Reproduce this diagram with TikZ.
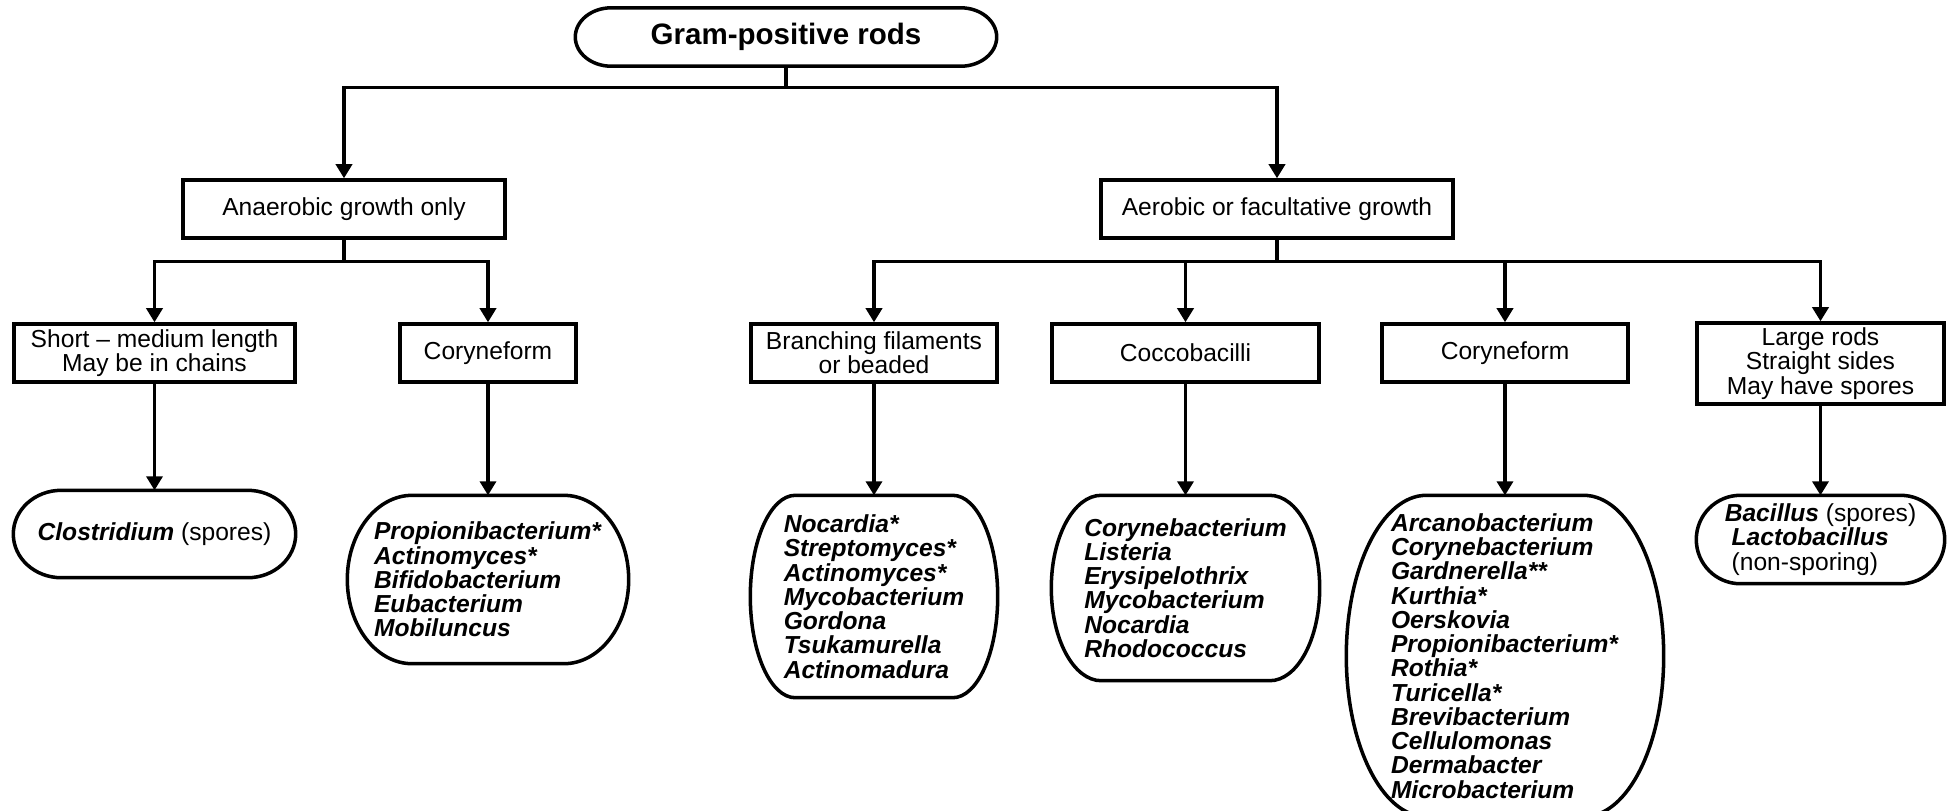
\documentclass[tikz,border=0pt]{standalone}
\usepackage{fontspec}
\setmainfont{Liberation Sans}
\usetikzlibrary{arrows.meta,calc}

\newcommand{\genus}[1]{\textbf{\textit{#1}}}
\newcommand{\ovaloutline}[2]{%
	\draw[outline] let \p1=(#1.north), \p2=(#1.south), \n1={(\y1-\y2)/2} in
		([xshift=#2]#1.north west) -- ([xshift=-#2]#1.north east)
		arc[start angle=90, end angle=-90, x radius=#2, y radius=\n1]
		-- ([xshift=#2]#1.south west)
		arc[start angle=270, end angle=90, x radius=#2, y radius=\n1]
		-- cycle;}

\tikzset{
	every node/.style={font=\fontsize{7}{6.9}\selectfont, inner sep=0pt},
	box/.style={draw, line width=1pt, align=center, minimum height=0.58cm},
	leaf/.style={align=left},
	outline/.style={line width=1pt},
	link/.style={line width=0.9pt},
	arr/.style={link, -{Triangle[length=4pt,width=4.6pt]}},
}

\begin{document}
\begin{tikzpicture}
	\useasboundingbox (0,0) rectangle (19.5,-8.1);

	% root and first split
	\node[minimum width=4.2cm, minimum height=0.57cm, font=\fontsize{8.4}{10}\selectfont\bfseries]
		(root) at (7.86,-0.37) {Gram-positive rods};
	\node[box, minimum width=3.22cm] (anaer) at (3.44,-2.09) {Anaerobic growth only};
	\node[box, minimum width=3.52cm] (aer) at (12.77,-2.09) {Aerobic or facultative growth};

	% morphology boxes
	\node[box, minimum width=2.81cm] (short) at (1.545,-3.53) {Short – medium length\\May be in chains};
	\node[box, minimum width=1.76cm] (coryL) at (4.88,-3.53) {Coryneform};
	\node[box, minimum width=2.46cm] (branch) at (8.74,-3.53) {Branching filaments\\or beaded};
	\node[box, minimum width=2.67cm] (cocco) at (11.855,-3.53) {Coccobacilli};
	\node[box, minimum width=2.46cm] (coryR) at (15.05,-3.53) {Coryneform};
	\node[box, minimum width=2.47cm, minimum height=0.81cm] (large) at (18.205,-3.635)
		{Large rods\\Straight sides\\May have spores};

	% genera
	\node[minimum width=2.81cm, minimum height=0.86cm] (clos) at (1.545,-5.34)
		{\genus{Clostridium} (spores)};
	\node[leaf, minimum width=2.8cm, minimum height=1.67cm] (coryLl) at (4.88,-5.795)
		{\genus{Propionibacterium*}\\\genus{Actinomyces*}\\\genus{Bifidobacterium}\\
		\genus{Eubacterium}\\\genus{Mobiluncus}};
	\node[leaf, minimum width=2.46cm, minimum height=2.01cm] (branchl) at (8.74,-5.965)
		{\genus{Nocardia*}\\\genus{Streptomyces*}\\\genus{Actinomyces*}\\\genus{Mycobacterium}\\
		\genus{Gordona}\\\genus{Tsukamurella}\\\genus{Actinomadura}};
	\node[leaf, minimum width=2.67cm, minimum height=1.84cm] (coccol) at (11.855,-5.88)
		{\genus{Corynebacterium}\\\genus{Listeria}\\\genus{Erysipelothrix}\\\genus{Mycobacterium}\\
		\genus{Nocardia}\\\genus{Rhodococcus}};
	\node[leaf, minimum width=3.16cm, minimum height=3.2cm] (coryRl) at (15.05,-6.56)
		{\genus{Arcanobacterium}\\\genus{Corynebacterium}\\\genus{Gardnerella**}\\\genus{Kurthia*}\\
		\genus{Oerskovia}\\\genus{Propionibacterium*}\\\genus{Rothia*}\\\genus{Turicella*}\\
		\genus{Brevibacterium}\\\genus{Cellulomonas}\\\genus{Dermabacter}\\\genus{Microbacterium}};
	\node[leaf, minimum width=2.47cm, minimum height=0.87cm] (bacl) at (18.205,-5.395)
		{\genus{Bacillus} (spores)\\\hspace*{0.28em}\genus{Lactobacillus}\\\hspace*{0.28em}(non-sporing)};

	\foreach \leafname/\rx in {root/0.36cm, clos/0.48cm, coryLl/0.65cm, branchl/0.45cm,
		coccol/0.5cm, coryRl/0.8cm, bacl/0.44cm}
		\ovaloutline{\leafname}{\rx};

	% connectors
	\draw[link] (root.south) -- ++(0,-0.215) coordinate (jroot);
	\draw[link] (anaer.south) -- ++(0,-0.215) coordinate (janaer);
	\draw[link] (aer.south) -- ++(0,-0.215) coordinate (jaer);
	\foreach \child in {anaer,aer}
		\draw[arr] (jroot) -| (\child.north);
	\foreach \child in {short,coryL}
		\draw[arr] (janaer) -| (\child.north);
	\foreach \child in {branch,cocco,coryR,large}
		\draw[arr] (jaer) -| (\child.north);
	\foreach \boxname/\leafname in {short/clos, coryL/coryLl, branch/branchl, cocco/coccol,
		coryR/coryRl, large/bacl}
		\draw[arr] (\boxname.south) -- (\leafname.north);
\end{tikzpicture}
\end{document}
